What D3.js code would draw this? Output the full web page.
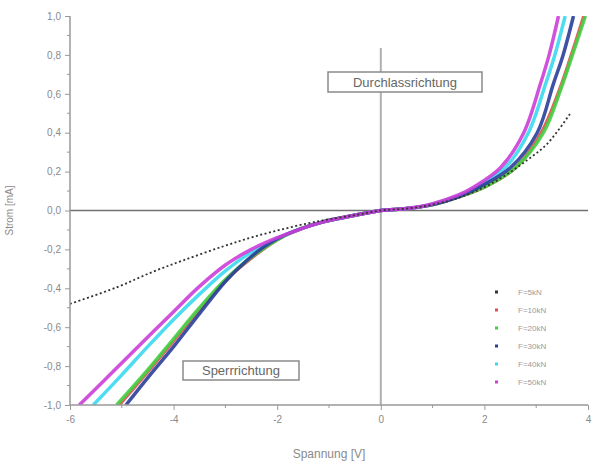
<!DOCTYPE html>
<html>
<head>
<meta charset="utf-8">
<script src="https://cdn.jsdelivr.net/npm/d3@7"></script>
<style>
  body { margin: 0; background: #fff; }
  text { font-family: "Liberation Sans", Arial, sans-serif; }
</style>
</head>
<body>
<script>
// series labels and colours
const seriesNames = ['F=5kN', 'F=10kN', 'F=20kN', 'F=30kN', 'F=40kN', 'F=50kN'];
const seriesColors = ['#333333', '#e05050', '#44d044', '#2a3f9a', '#3ad8f0', '#cc3fd8'];

// values (Spannung [V], Strom [mA])
const volt5 = [-6, -5.1, -4.4, -3.8, -3.05, -2.45, -1.8, -1.15, -0.5, 0, 0.5, 1, 1.5, 2, 2.4, 2.83, 3.22, 3.66];
const amp5 = [-0.48, -0.395, -0.315, -0.255, -0.185, -0.135, -0.09, -0.052, -0.024, 0, 0.01, 0.03, 0.065, 0.12, 0.18, 0.26, 0.345, 0.5];

const volt10 = [-5.05, -4.5, -4.0, -3.5, -3.0, -2.5, -2.0, -1.7, -1.2, -0.6, 0, 0.5, 1, 1.5, 2.0, 2.6, 3.1, 3.45, 3.68, 3.92];
const amp10 = [-1.0, -0.83, -0.67, -0.51, -0.36, -0.245, -0.15, -0.11, -0.065, -0.03, 0, 0.01, 0.03, 0.07, 0.12, 0.22, 0.40, 0.62, 0.8, 1.0];

const volt20 = [-5.1, -4.5, -4.0, -3.5, -3.0, -2.5, -2.0, -1.7, -1.2, -0.6, 0, 0.5, 1, 1.5, 2.0, 2.6, 3.14, 3.47, 3.7, 3.95];
const amp20 = [-1.0, -0.82, -0.66, -0.50, -0.355, -0.24, -0.15, -0.11, -0.065, -0.03, 0, 0.01, 0.03, 0.07, 0.12, 0.22, 0.40, 0.62, 0.8, 1.0];

const volt30 = [-4.92, -4.5, -4.0, -3.5, -3.0, -2.6, -2.3, -2.0, -1.7, -1.2, -0.6, 0, 0.5, 1, 1.5, 1.9, 2.5, 3.02, 3.33, 3.52, 3.72];
const amp30 = [-1.0, -0.86, -0.70, -0.53, -0.365, -0.26, -0.195, -0.145, -0.11, -0.065, -0.03, 0, 0.01, 0.03, 0.07, 0.12, 0.22, 0.40, 0.65, 0.8, 1.0];

const volt40 = [-5.55, -5.0, -4.5, -4.0, -3.5, -3.0, -2.5, -2.0, -1.7, -1.2, -0.6, 0, 0.5, 1, 1.5, 1.85, 2.4, 2.85, 3.18, 3.36, 3.56];
const amp40 = [-1.0, -0.845, -0.70, -0.56, -0.43, -0.31, -0.215, -0.145, -0.11, -0.065, -0.03, 0, 0.01, 0.033, 0.075, 0.12, 0.22, 0.40, 0.65, 0.8, 1.0];

const volt50 = [-5.82, -5.1, -4.4, -4.0, -3.5, -3.0, -2.5, -2.0, -1.7, -1.2, -0.6, 0, 0.5, 1.0, 1.5, 1.79, 2.31, 2.76, 3.08, 3.25, 3.43];
const amp50 = [-1.0, -0.81, -0.625, -0.52, -0.39, -0.28, -0.2, -0.14, -0.11, -0.065, -0.03, 0, 0.01, 0.035, 0.08, 0.12, 0.22, 0.40, 0.65, 0.8, 1.0];

const xTicks = [-6, -4, -2, 0, 2, 4];
const yTicks = [-1, -0.8, -0.6, -0.4, -0.2, 0, 0.2, 0.4, 0.6, 0.8, 1];

const seriesVolts = [volt5, volt10, volt20, volt30, volt40, volt50];
const seriesAmps = [amp5, amp10, amp20, amp30, amp40, amp50];

const width = 600, height = 473;
const svg = d3.select('body').append('svg')
  .attr('width', width)
  .attr('height', height);

const xScale = d3.scaleLinear().domain([-6, 4]).range([70, 588]);
const yScale = d3.scaleLinear().domain([-1, 1]).range([405, 16]);

const defs = svg.append('defs');
defs.append('clipPath').attr('id', 'plotClip')
  .append('rect')
  .attr('x', xScale(-6)).attr('y', yScale(1))
  .attr('width', xScale(4) - xScale(-6)).attr('height', yScale(-1) - yScale(1));
defs.append('filter').attr('id', 'soft')
  .append('feGaussianBlur').attr('stdDeviation', 0.7);

// zero lines
svg.append('line')
  .attr('x1', xScale(0)).attr('x2', xScale(0))
  .attr('y1', 48).attr('y2', yScale(-1))
  .attr('stroke', '#b0b0b0').attr('stroke-width', 2);
svg.append('line')
  .attr('x1', xScale(-6)).attr('x2', xScale(4))
  .attr('y1', yScale(0)).attr('y2', yScale(0))
  .attr('stroke', '#707070').attr('stroke-width', 1.5);

// curves
const line = d3.line()
  .x(d => xScale(d[0]))
  .y(d => yScale(d[1]))
  .curve(d3.curveCatmullRom);

const plot = svg.append('g').attr('clip-path', 'url(#plotClip)');
const drawOrder = [1, 2, 4, 3, 5];
drawOrder.forEach(function(i) {
  const pts = seriesVolts[i].map((v, k) => [v, seriesAmps[i][k]]);
  plot.append('path')
    .datum(pts)
    .attr('d', line)
    .attr('fill', 'none')
    .attr('stroke', seriesColors[i])
    .attr('stroke-width', 3.5)
    .attr('stroke-opacity', 0.9)
    .attr('filter', 'url(#soft)');
});

// 5kN is drawn as small dots
const pts5 = volt5.map((v, k) => [v, amp5[k]]);
plot.append('path')
  .datum(pts5)
  .attr('d', line)
  .attr('fill', 'none')
  .attr('stroke', seriesColors[0])
  .attr('stroke-width', 1.8)
  .attr('stroke-dasharray', '2,2.5');

// axes
const fmtY = d => d3.format('.1f')(d).replace('.', ',').replace('−', '-');
const fmtX = d => String(d);
const yAxis = d3.axisLeft(yScale).tickValues(yTicks).tickFormat(fmtY).tickSize(5).tickPadding(4);
const xAxis = d3.axisBottom(xScale).tickValues(xTicks).tickFormat(fmtX).tickSize(5).tickPadding(6);

const gy = svg.append('g').attr('transform', `translate(${xScale(-6)},0)`).call(yAxis);
const gx = svg.append('g').attr('transform', `translate(0,${yScale(-1)})`).call(xAxis);

// minor ticks
const yMinor = d3.range(-0.9, 1, 0.2);
gy.selectAll('.minor').data(yMinor).enter().append('line')
  .attr('x1', -3).attr('x2', 0)
  .attr('y1', d => yScale(d)).attr('y2', d => yScale(d))
  .attr('stroke', '#999');
const xMinor = [-5, -3, -1, 1, 3];
gx.selectAll('.minor').data(xMinor).enter().append('line')
  .attr('x1', d => xScale(d)).attr('x2', d => xScale(d))
  .attr('y1', 0).attr('y2', 3)
  .attr('stroke', '#999');

[gx, gy].forEach(function(g) {
  g.select('.domain').attr('stroke', '#999').attr('stroke-width', 1.5);
  g.selectAll('.tick line').attr('stroke', '#999');
  g.selectAll('.tick text').attr('fill', '#8a8a8a').style('font-size', '10px');
});
gx.select('.domain').attr('d', `M${xScale(-6)},0H${xScale(4)}`);
gy.select('.domain').attr('d', `M0,${yScale(-1)}V${yScale(1)}`);

// axis titles
svg.append('text')
  .attr('x', (xScale(-6) + xScale(4)) / 2)
  .attr('y', 458)
  .attr('text-anchor', 'middle')
  .attr('fill', '#8a8a8a')
  .style('font-size', '12px')
  .text('Spannung [V]');
svg.append('text')
  .attr('transform', `translate(13,${yScale(0)}) rotate(-90)`)
  .attr('text-anchor', 'middle')
  .attr('fill', '#8a8a8a')
  .style('font-size', '10px')
  .text('Strom [mA]');

// annotation boxes
function labelBox(x, y, w, h, txt) {
  svg.append('rect')
    .attr('x', x).attr('y', y).attr('width', w).attr('height', h)
    .attr('fill', '#fff').attr('stroke', '#8a8a8a').attr('stroke-width', 1.5);
  svg.append('text')
    .attr('x', x + w / 2).attr('y', y + h / 2 + 4.5)
    .attr('text-anchor', 'middle')
    .attr('fill', '#666')
    .style('font-size', '13px')
    .text(txt);
}
labelBox(328, 72, 154, 20, 'Durchlassrichtung');
labelBox(183, 361, 116, 19, 'Sperrrichtung');

// legend
const legend = svg.append('g');
seriesNames.forEach(function(name, i) {
  const y = 292 + i * 18;
  legend.append('rect')
    .attr('x', 495).attr('y', y - 1.5).attr('width', 3).attr('height', 3)
    .attr('fill', seriesColors[i]);
  legend.append('text')
    .attr('x', 518).attr('y', y + 3)
    .attr('fill', '#9a9a9a')
    .style('font-size', '8px')
    .text(name);
});
</script>
</body>
</html>
